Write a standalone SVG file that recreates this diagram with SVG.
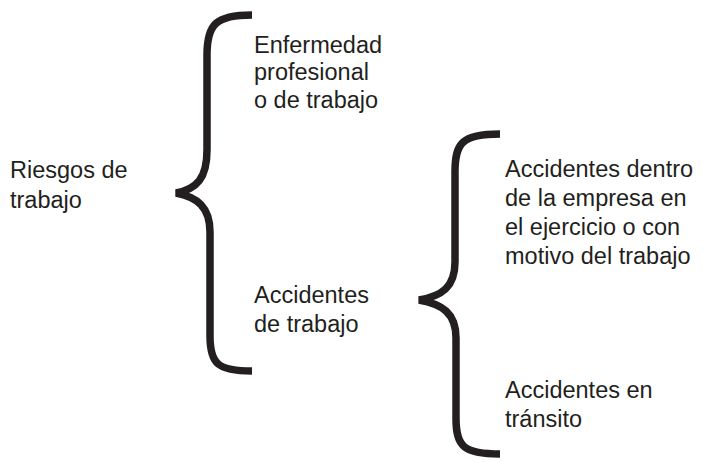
<svg xmlns="http://www.w3.org/2000/svg" width="703" height="462" viewBox="0 0 703 462">
<style>
text{font-family:"Liberation Sans",Arial,sans-serif;font-size:23.5px;fill:#231f20}
.brace{fill:none;stroke:#231f20;stroke-width:7.5;stroke-linejoin:miter}
</style>
<rect width="703" height="462" fill="#fff"/>
<g id="connectors">
<path class="brace" d="M252,15 C216,15 207,24 207,55 L207,150 C207,178 197,189 176,193 C197,197 210,207 210,232 L210,336 C210,364 218,371 252,371"/>
<path class="brace" d="M500,134 C462,134 455,143 455,172 L455,262 C455,287 442,296 419,300 C442,304 456,313 456,338 L456,418 C456,447 464,454 500,454"/>
</g>
<g id="riesgos"><text x="10" y="178">Riesgos de</text><text x="10" y="208">trabajo</text></g>
<g id="enfermedad"><text x="254" y="53">Enfermedad</text><text x="254" y="80">profesional</text><text x="254" y="108">o de trabajo</text></g>
<g id="accidentes"><text x="254" y="303">Accidentes</text><text x="254" y="332">de trabajo</text></g>
<g id="dentro"><text x="505" y="177">Accidentes dentro</text><text x="505" y="206">de la empresa en</text><text x="505" y="235">el ejercicio o con</text><text x="505" y="264">motivo del trabajo</text></g>
<g id="transito"><text x="505" y="398">Accidentes en</text><text x="505" y="427">tránsito</text></g>
</svg>
